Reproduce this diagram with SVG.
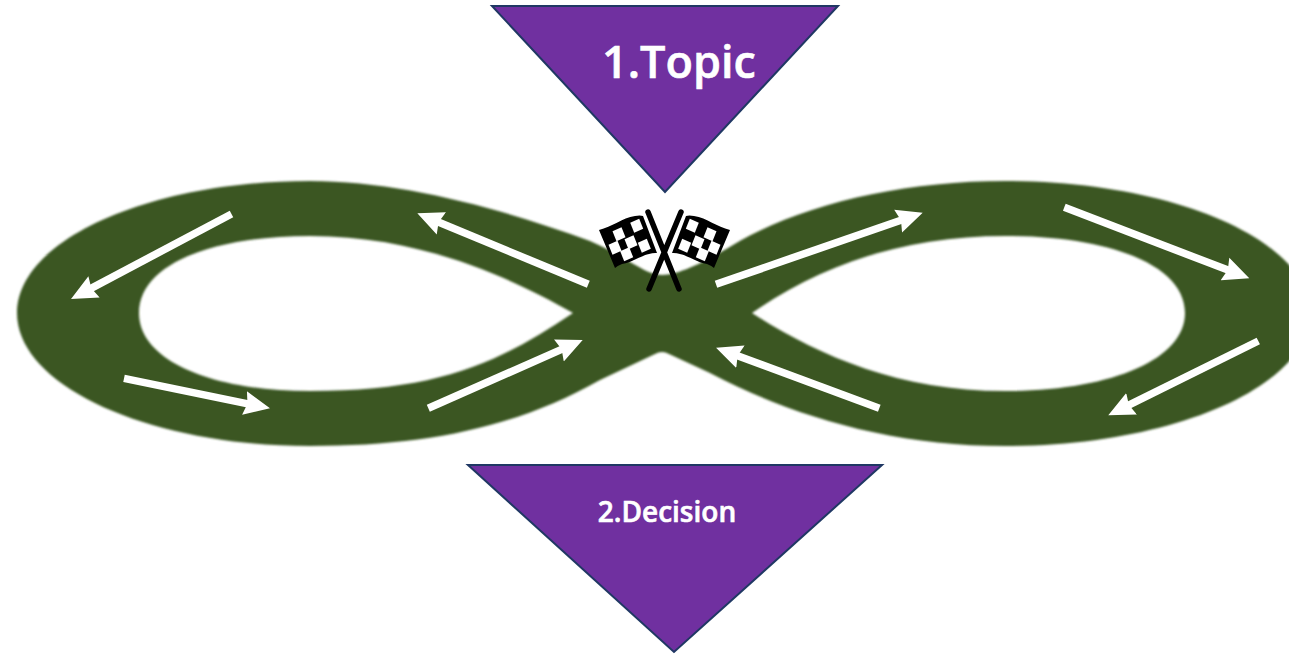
<svg xmlns="http://www.w3.org/2000/svg" xmlns:xlink="http://www.w3.org/1999/xlink" width="1289" height="654" viewBox="0 0 1289 654">
<style>
.tri{fill:#7030a0;stroke:#203864;stroke-width:2}
.lbl{fill:#fff;stroke:#fff;stroke-width:.6;font-family:"Open Sans","Noto Sans",sans-serif;font-weight:600;text-anchor:middle}
.arr{fill:none;stroke:#fff;stroke-width:7.5;marker-end:url(#ah)}
.track{fill:#3a5723;fill-rule:evenodd;filter:url(#soft)}
.pole{stroke:#000;stroke-width:5.5;stroke-linecap:round;fill:none}
</style>
<defs>
<filter id="soft" x="-2%" y="-5%" width="104%" height="110%"><feGaussianBlur stdDeviation="0.8"/></filter>
<marker id="ah" markerUnits="userSpaceOnUse" markerWidth="30" markerHeight="26" refX="6" refY="13" orient="auto"><path d="M0 1L26 13L0 25L3 13Z" fill="#fff"/></marker>
<path id="cell" d="M-6.5 -3L2.5 -7L6.5 3L-2.5 7Z" fill="#fff"/>
<g id="flag">
<path d="M599 230C612 227 622 218 635 216Q640 215 643 216L657 253C645 252 635 262 622 264Q617 266 615 268Z" fill="#000"/>
<use xlink:href="#cell" href="#cell" x="619" y="234.3"/>
<use xlink:href="#cell" href="#cell" x="636.7" y="225.7"/>
<use xlink:href="#cell" href="#cell" x="631" y="242.3"/>
<use xlink:href="#cell" href="#cell" x="615" y="247.7"/>
<use xlink:href="#cell" href="#cell" x="644.3" y="245.7"/>
<use xlink:href="#cell" href="#cell" x="626.7" y="254.3"/>
</g>
</defs>
<rect width="1289" height="654" fill="#fff"/>
<g id="track"><path class="track" d="M662 275C645 275 625 256 590 241C500 208 400 181 310 181C149 181 17 240 17 313C17 386 149 446 310 446C425 446 515 428 600 380L655 354Q662 350 669 354L710 373C790 415 890 446 1005 446C1173 446 1310 386 1310 313C1310 240 1173 181 1005 181C900 181 800 205 733 245C710 259 680 275 662 275Z
M573 313C510 277 420 236 310 236C210 236 139 265 139 313C139 360 210 391 310 391C440 391 500 362 573 313Z
M752 313C825 262 910 236 1005 236C1110 236 1185 265 1185 313C1185 360 1110 391 1005 391C895 391 815 353 752 313Z"/></g>
<g id="connectors">
<path class="arr" d="M231.5 214L88.7 289.6"/>
<path class="arr" d="M124 378.3L250.4 404.3"/>
<path class="arr" d="M588.3 284.3L435.8 221"/>
<path class="arr" d="M428.3 408.3L564.4 348.1"/>
<path class="arr" d="M716 284.3L903.8 219.2"/>
<path class="arr" d="M1064.3 207.3L1230.6 271.1"/>
<path class="arr" d="M1258.3 341L1126.2 406.4"/>
<path class="arr" d="M879.3 408.3L734.8 354.7"/>
</g>
<g id="flags">
<path class="pole" d="M648 212L679 289M681 212L649 289"/>
<use xlink:href="#flag" href="#flag"/>
<use xlink:href="#flag" href="#flag" transform="translate(1329 0) scale(-1 1)"/>
</g>
<g id="topic"><path class="tri" d="M492 6H838L665 192Z"/><text class="lbl" x="679" y="78" font-size="45">1.Topic</text></g>
<g id="decision"><path class="tri" d="M468 465H882L674 652Z"/><text class="lbl" x="667" y="522" font-size="28">2.Decision</text></g>
</svg>
